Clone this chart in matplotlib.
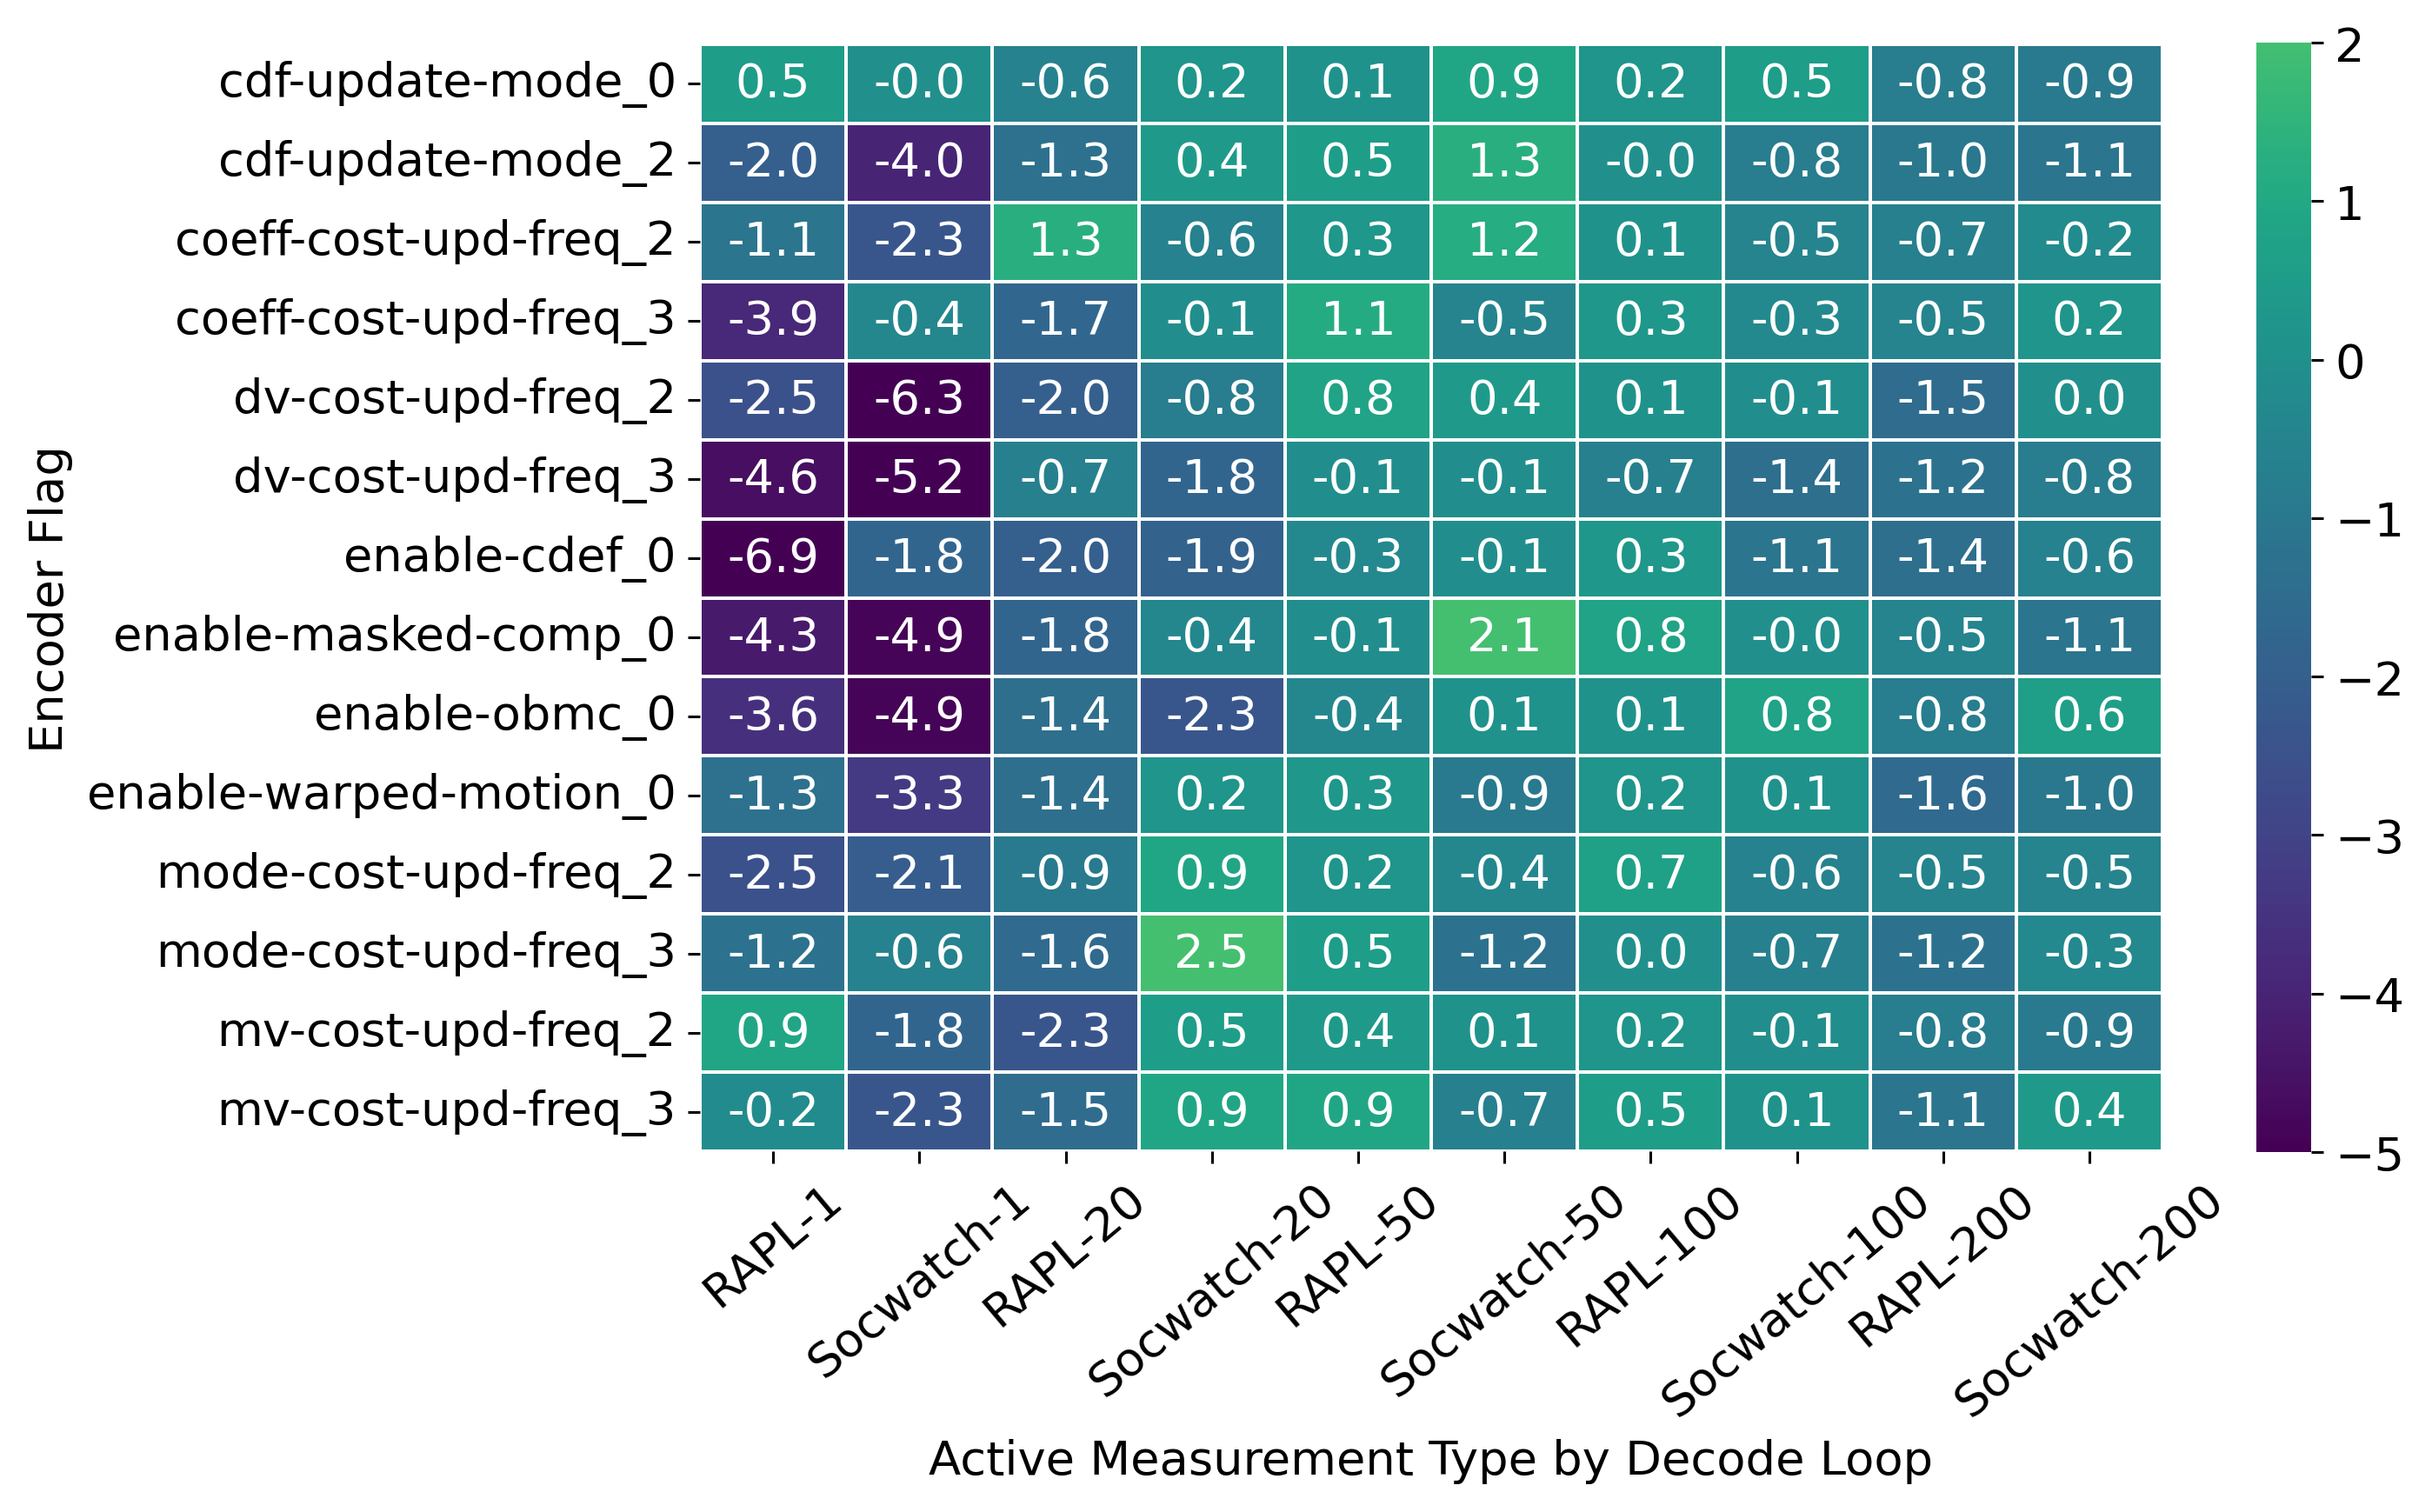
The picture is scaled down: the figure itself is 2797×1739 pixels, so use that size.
import numpy as np
import matplotlib
matplotlib.use("Agg")
import matplotlib.pyplot as plt
import seaborn as sns

rows = ["cdf-update-mode_0", "cdf-update-mode_2", "coeff-cost-upd-freq_2",
        "coeff-cost-upd-freq_3", "dv-cost-upd-freq_2", "dv-cost-upd-freq_3",
        "enable-cdef_0", "enable-masked-comp_0", "enable-obmc_0",
        "enable-warped-motion_0", "mode-cost-upd-freq_2", "mode-cost-upd-freq_3",
        "mv-cost-upd-freq_2", "mv-cost-upd-freq_3"]
cols = ["RAPL-1", "Socwatch-1", "RAPL-20", "Socwatch-20", "RAPL-50",
        "Socwatch-50", "RAPL-100", "Socwatch-100", "RAPL-200", "Socwatch-200"]
values = [
    [0.5, -0.0, -0.6, 0.2, 0.1, 0.9, 0.2, 0.5, -0.8, -0.9],
    [-2.0, -4.0, -1.3, 0.4, 0.5, 1.3, -0.0, -0.8, -1.0, -1.1],
    [-1.1, -2.3, 1.3, -0.6, 0.3, 1.2, 0.1, -0.5, -0.7, -0.2],
    [-3.9, -0.4, -1.7, -0.1, 1.1, -0.5, 0.3, -0.3, -0.5, 0.2],
    [-2.5, -6.3, -2.0, -0.8, 0.8, 0.4, 0.1, -0.1, -1.5, 0.0],
    [-4.6, -5.2, -0.7, -1.8, -0.1, -0.1, -0.7, -1.4, -1.2, -0.8],
    [-6.9, -1.8, -2.0, -1.9, -0.3, -0.1, 0.3, -1.1, -1.4, -0.6],
    [-4.3, -4.9, -1.8, -0.4, -0.1, 2.1, 0.8, -0.0, -0.5, -1.1],
    [-3.6, -4.9, -1.4, -2.3, -0.4, 0.1, 0.1, 0.8, -0.8, 0.6],
    [-1.3, -3.3, -1.4, 0.2, 0.3, -0.9, 0.2, 0.1, -1.6, -1.0],
    [-2.5, -2.1, -0.9, 0.9, 0.2, -0.4, 0.7, -0.6, -0.5, -0.5],
    [-1.2, -0.6, -1.6, 2.5, 0.5, -1.2, 0.0, -0.7, -1.2, -0.3],
    [0.9, -1.8, -2.3, 0.5, 0.4, 0.1, 0.2, -0.1, -0.8, -0.9],
    [-0.2, -2.3, -1.5, 0.9, 0.9, -0.7, 0.5, 0.1, -1.1, 0.4],
]

plt.rcParams['font.family'] = ['DejaVu Sans']
FS = 19.6
fig = plt.figure(figsize=(13.985, 8.7), dpi=200)
ax = fig.add_axes([0.2878, 0.2385, 0.6014, 0.7316])
cax = fig.add_axes([0.9278, 0.2379, 0.0225, 0.7333])

data = np.array(values)
sns.heatmap(data, ax=ax, cbar_ax=cax, cmap="viridis", vmin=-5, vmax=2, center=0,
            annot=True, fmt=".1f", annot_kws={"fontsize": FS},
            linewidths=1.4, linecolor="white",
            xticklabels=cols, yticklabels=rows)
ax.set_xticklabels(cols, rotation=40, ha="center", fontsize=FS)
ax.set_yticklabels(rows, rotation=0, fontsize=FS)
ax.tick_params(axis="both", length=4.9, width=1.1, pad=4.9)
ax.set_xlabel("Active Measurement Type by Decode Loop", fontsize=FS, labelpad=5.6)
ax.set_ylabel("Encoder Flag", fontsize=FS, labelpad=5.6)
cax.tick_params(labelsize=FS, length=4.9, width=1.1, pad=4.9)

fig.savefig("out.png", dpi=200)
